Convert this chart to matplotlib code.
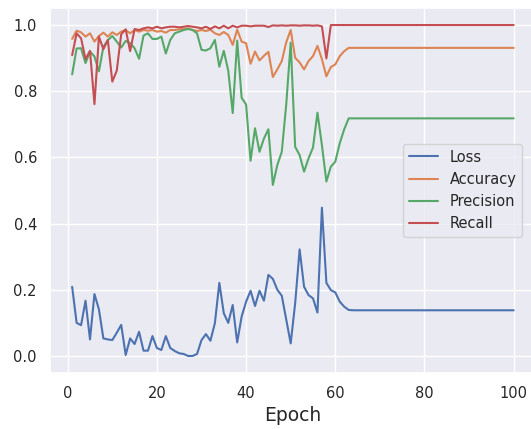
import numpy as np
import matplotlib
matplotlib.use('Agg')
import matplotlib.pyplot as plt
import seaborn as sns

# values, epochs 1..100
epochs = np.arange(1, 101)

loss = [0.209, 0.100, 0.093, 0.167, 0.050, 0.187, 0.141, 0.053, 0.050, 0.048,
        0.070, 0.094, 0.003, 0.053, 0.036, 0.073, 0.016, 0.016, 0.060, 0.024,
        0.018, 0.060, 0.024, 0.015, 0.008, 0.006, 0.000, 0.000, 0.006, 0.048,
        0.066, 0.046, 0.099, 0.221, 0.129, 0.100, 0.154, 0.041, 0.119, 0.164,
        0.197, 0.151, 0.197, 0.167, 0.245, 0.233, 0.200, 0.182, 0.110, 0.038,
        0.159, 0.322, 0.209, 0.184, 0.174, 0.131, 0.448, 0.221, 0.199, 0.192,
        0.164, 0.149, 0.139] + [0.138] * 37

accuracy = [0.958, 0.983, 0.978, 0.965, 0.975, 0.950, 0.967, 0.977, 0.965, 0.978,
            0.970, 0.980, 0.985, 0.975, 0.985, 0.980, 0.985, 0.983, 0.985, 0.980,
            0.982, 0.977, 0.985, 0.985, 0.987, 0.988, 0.990, 0.985, 0.982, 0.985,
            0.982, 0.986, 0.975, 0.970, 0.979, 0.970, 0.940, 0.986, 0.950, 0.945,
            0.883, 0.920, 0.893, 0.907, 0.919, 0.843, 0.866, 0.891, 0.948, 0.985,
            0.901, 0.887, 0.866, 0.891, 0.906, 0.937, 0.897, 0.845, 0.873, 0.881,
            0.906, 0.921, 0.931] + [0.931] * 37

precision = [0.851, 0.929, 0.930, 0.885, 0.920, 0.905, 0.860, 0.934, 0.954, 0.967,
             0.950, 0.932, 0.952, 0.945, 0.930, 0.898, 0.968, 0.975, 0.958, 0.958,
             0.965, 0.914, 0.955, 0.975, 0.980, 0.985, 0.988, 0.985, 0.975, 0.925,
             0.923, 0.930, 0.955, 0.874, 0.922, 0.862, 0.734, 0.953, 0.780, 0.760,
             0.590, 0.688, 0.617, 0.657, 0.685, 0.517, 0.577, 0.617, 0.760, 0.947,
             0.632, 0.607, 0.557, 0.597, 0.630, 0.735, 0.637, 0.527, 0.572, 0.587,
             0.643, 0.685, 0.718] + [0.718] * 37

recall = [0.909, 0.975, 0.960, 0.897, 0.922, 0.761, 0.965, 0.927, 0.955, 0.829,
          0.862, 0.972, 0.987, 0.921, 0.988, 0.985, 0.990, 0.993, 0.990, 0.995,
          0.990, 0.993, 0.995, 0.995, 0.993, 0.995, 0.997, 0.995, 0.993, 0.990,
          0.995, 0.988, 0.996, 0.990, 0.998, 0.990, 0.998, 0.993, 0.998, 0.998,
          0.996, 0.998, 0.998, 0.998, 0.994, 0.999, 0.998, 0.999, 0.998, 0.999,
          0.999, 0.998, 0.999, 0.999, 0.998, 0.999, 0.996, 0.899, 1.000, 1.000,
          1.000, 1.000, 1.000] + [1.000] * 37

series = [('Loss', loss), ('Accuracy', accuracy), ('Precision', precision), ('Recall', recall)]

sns.set_theme(style='darkgrid')

fig = plt.figure(figsize=(5.31, 4.29), dpi=100)
ax = fig.add_axes([0.0943, 0.1317, 0.9147, 0.8485])

for name, vals in series:
    ax.plot(epochs, vals, lw=1.5, label=name)

ax.set_xlim(-3.95, 104.95)
ax.set_ylim(-0.05, 1.05)
ax.set_xticks(np.arange(0, 101, 20))
ax.set_yticks(np.arange(0, 1.01, 0.2))
ax.tick_params(labelsize=10.5)
ax.set_xlabel('Epoch', fontsize=13.5)

ax.legend(loc='center right', bbox_to_anchor=(0.987, 0.5), fontsize=10.5)

fig.savefig('out.png', dpi=100)
